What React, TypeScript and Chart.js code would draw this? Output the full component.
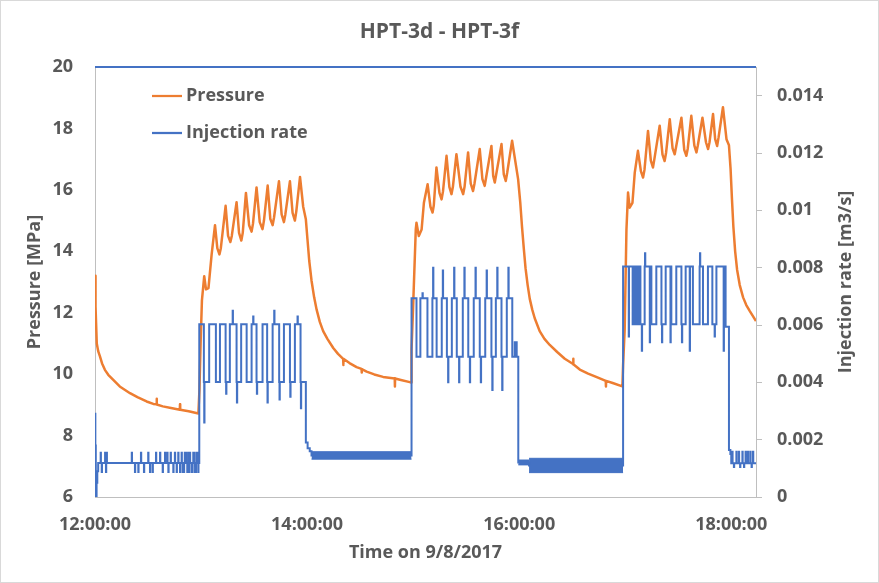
import React, { useEffect, useRef } from 'react';
import { Chart, registerables } from 'chart.js';

Chart.register(...registerables);

const FONT = "'Open Sans', sans-serif";
const TEXT = '#595959';
const ORANGE = '#ED7D31';
const BLUE = '#4472C4';
const AXIS = '#BFBFBF';

const chartTitle = 'HPT-3d - HPT-3f';
const xTitle = 'Time on 9/8/2017';
const yTitle = 'Pressure [MPa]';
const y2Title = 'Injection rate [m3/s]';
const seriesNames = ['Pressure', 'Injection rate'];

// x values are minutes after 12:00:00
const timeTicks = [0, 120, 240, 360];
const timeMax = 374;
const pressureTicks = [6, 8, 10, 12, 14, 16, 18, 20];
const rateTicks = [0, 0.002, 0.004, 0.006, 0.008, 0.01, 0.012, 0.014];

// Pressure [minute, MPa]
const pressure: [number, number][] = [
  [0, 13.2], [0.3, 12.2], [1.0, 11.0], [1.8, 10.75], [2.8, 10.58], [4.0, 10.35], [5.6, 10.14],
  [7.5, 9.98], [10.2, 9.82], [14.0, 9.6], [19.8, 9.38], [24.0, 9.25], [29.2, 9.11], [33.0, 9.03],
  [34.8, 9.02], [34.9, 9.2], [35.0, 9.01], [38.4, 8.95], [43.0, 8.9], [48.0, 8.84], [48.1, 9.02],
  [48.2, 8.84], [53.0, 8.79], [58.5, 8.72],
  [59.1, 9.5], [59.8, 11.1], [60.5, 12.4], [61.8, 13.19], [62.8, 12.76], [64.2, 12.8], [66.0, 13.9],
  [67.9, 14.85], [69.2, 14.1], [70.4, 13.9], [71.2, 14.1], [73.9, 15.48], [75.3, 14.5], [76.6, 14.3],
  [77.4, 14.5], [80.1, 15.6], [81.5, 14.6], [82.8, 14.35], [83.6, 14.6], [85.4, 15.9], [87.2, 14.85],
  [88.6, 14.64], [89.4, 14.9], [91.4, 16.08], [93.2, 14.95], [94.8, 14.72], [95.6, 15.0], [97.7, 16.14],
  [99.2, 15.05], [100.5, 14.85], [101.3, 15.1], [104.1, 16.28], [105.6, 15.2], [106.9, 14.95],
  [107.7, 15.2], [110.3, 16.28], [111.8, 15.25], [113.1, 15.0], [113.9, 15.3], [116.0, 16.42],
  [117.8, 15.45], [119.3, 15.04],
  [120.2, 14.4], [121.2, 13.7], [122.5, 13.05], [124.0, 12.5], [125.4, 12.1], [127.2, 11.7],
  [129.1, 11.4], [131.5, 11.15], [134.8, 10.85], [137.5, 10.66], [140.4, 10.5],
  [140.5, 10.3], [140.6, 10.5], [144.0, 10.36], [148.0, 10.23], [150.8, 10.17], [150.9, 10.05], [151.0, 10.16],
  [153.7, 10.08], [158.0, 9.99], [163.0, 9.91], [169.6, 9.86], [169.7, 9.6], [169.8, 9.86], [172.5, 9.82],
  [178.1, 9.74],
  [178.8, 9.73], [179.1, 10.8], [180.0, 12.21], [181.5, 14.71], [181.9, 14.93], [183.2, 14.5],
  [184.8, 14.71], [186.1, 15.58], [188.2, 16.18], [189.8, 15.45], [191.0, 15.26], [191.7, 15.5],
  [193.2, 16.73], [194.9, 15.9], [196.1, 15.69], [196.9, 15.95], [198.9, 17.11], [200.5, 16.1],
  [201.7, 15.86], [202.5, 16.1], [204.5, 17.16], [206.8, 16.1], [208.3, 15.86], [209.1, 16.1],
  [211.1, 17.22], [212.6, 16.2], [213.9, 15.96], [214.7, 16.2], [217.7, 17.33], [219.2, 16.35],
  [220.5, 16.13], [221.3, 16.4], [224.3, 17.43], [225.3, 16.45], [226.2, 16.24], [227.0, 16.5],
  [230.0, 17.49], [231.3, 16.5], [232.4, 16.29], [233.2, 16.55], [236.0, 17.6], [239.4, 16.35],
  [240.6, 15.6], [241.6, 14.8], [242.6, 14.1], [243.6, 13.45],
  [244.8, 12.9], [246.0, 12.45], [247.4, 12.1], [248.8, 11.82], [251.6, 11.4], [254.3, 11.15],
  [257.3, 10.95], [261.5, 10.72], [265.8, 10.5], [270.5, 10.33], [270.6, 10.5], [270.7, 10.32],
  [274.3, 10.15], [279.0, 10.02], [283.9, 9.9], [289.0, 9.78], [289.1, 9.6], [289.2, 9.78],
  [292.9, 9.71], [298.4, 9.6],
  [298.8, 10.3], [299.7, 11.45], [300.7, 14.71], [301.6, 15.91], [302.5, 15.42], [304.1, 15.58],
  [305.4, 16.56], [307.2, 17.27], [308.9, 16.6], [310.1, 16.4], [310.9, 16.65], [312.9, 17.92],
  [314.5, 16.95], [315.7, 16.73], [316.5, 17.0], [319.5, 18.09], [321.1, 17.15], [322.3, 16.94],
  [323.1, 17.2], [325.2, 18.3], [326.8, 17.35], [328.0, 17.16], [328.8, 17.4], [331.8, 18.35],
  [333.4, 17.3], [334.6, 17.11], [335.4, 17.35], [337.4, 18.41], [339.1, 17.45], [340.3, 17.22],
  [341.1, 17.45], [343.7, 18.35], [345.7, 17.55], [346.9, 17.33], [347.7, 17.55], [349.7, 18.47],
  [350.9, 17.65], [352.0, 17.43], [352.8, 17.7], [355.3, 18.69],
  [357.3, 17.65], [358.7, 17.45], [359.6, 16.7], [360.4, 15.7], [361.2, 14.8], [362.2, 14.0],
  [363.3, 13.4], [364.8, 12.9], [366.7, 12.5], [368.5, 12.25], [370.5, 12.05], [374, 11.73],
];

// Injection rate step levels [minute, m3/s]; each value holds until the next entry
const rateLevels: [number, number][] = [
  [0, 0.0029], [0.2, 0.0018], [0.45, 0.0], [0.9, 0.0005], [1.3, 0.0009], [1.8, 0.00119],
  [59.0, 0.00603], [61.6, 0.00401], [64.6, 0.00603], [68.4, 0.00401], [70.7, 0.00603], [73.9, 0.00401],
  [76.3, 0.00603], [80.1, 0.00401], [82.7, 0.00603], [85.8, 0.00401], [88.6, 0.00603], [91.4, 0.00401],
  [94.8, 0.00603], [97.4, 0.00401], [100.5, 0.00603], [104.2, 0.00401], [106.9, 0.00603], [110.3, 0.00401],
  [113.1, 0.00603], [116.3, 0.00401], [119.3, 0.0019], [120.3, 0.0017], [121.5, 0.0016], [122.5, 0.00145],
  [179.1, 0.00693], [181.9, 0.00489], [184.1, 0.00693], [188.1, 0.00489], [190.9, 0.00693], [193.3, 0.00489],
  [196.2, 0.00693], [199.1, 0.00489], [201.9, 0.00693], [204.7, 0.00489], [208.1, 0.00693], [211.2, 0.00489],
  [214.3, 0.00693], [217.7, 0.00489], [220.8, 0.00693], [224.3, 0.00489], [226.8, 0.00693], [230.0, 0.00489],
  [233.0, 0.00693], [236.1, 0.00489], [237.5, 0.0054], [238.6, 0.00489], [239.5, 0.0012], [245.6, 0.0011],
  [298.8, 0.00804], [304.2, 0.00603], [304.6, 0.00804], [305.1, 0.00603], [305.5, 0.00804], [306.0, 0.00603],
  [306.4, 0.00804], [306.9, 0.00603], [307.3, 0.00804], [307.8, 0.00603], [308.2, 0.00804], [308.6, 0.00603],
  [311.0, 0.00804], [314.8, 0.00603], [317.6, 0.00804], [320.5, 0.00603], [322.9, 0.00804], [326.1, 0.00603],
  [328.9, 0.00804], [331.8, 0.00603], [334.2, 0.00804], [338.3, 0.00603], [342.1, 0.00804], [344.0, 0.00603],
  [346.8, 0.00804], [349.3, 0.00603], [351.6, 0.00804], [356.8, 0.00594], [358.7, 0.00164], [359.5, 0.0015],
  [360.0, 0.00118], [374, 0.00118],
];

// Short spikes of the injection rate [minute, m3/s]
const rateSpikes: [number, number][] = [
  [3.2, 0.00154], [3.8, 0.00087], [5.7, 0.00154], [6.2, 0.00087], [6.6, 0.00154], [20.8, 0.00154],
  [22.6, 0.00087], [24.5, 0.00087], [26.0, 0.00154], [27.7, 0.00087], [30.1, 0.00154], [31.1, 0.00087],
  [32.6, 0.00087], [34.5, 0.00154], [36.8, 0.00154], [38.3, 0.00087], [39.6, 0.00154], [40.9, 0.00154],
  [41.5, 0.00087], [42.8, 0.00154], [44.3, 0.00087], [45.2, 0.00154], [46.2, 0.00087], [47.1, 0.00154],
  [48.1, 0.00087], [49.0, 0.00154], [49.6, 0.00087], [50.3, 0.00087], [50.8, 0.00154], [51.5, 0.00154],
  [52.2, 0.00087], [52.8, 0.00154], [53.2, 0.00087], [53.7, 0.00154], [54.7, 0.00087], [55.1, 0.00087],
  [55.6, 0.00154], [56.1, 0.00154], [56.6, 0.00087], [57.0, 0.00087], [57.5, 0.00154], [57.9, 0.00154],
  [58.4, 0.00087], [58.7, 0.00154],
  [61.8, 0.0026], [74.2, 0.0036], [77.9, 0.0065], [80.3, 0.0033], [89.5, 0.0063], [91.6, 0.0036],
  [97.6, 0.0033], [101.4, 0.0065], [104.4, 0.0034], [110.5, 0.0035], [114.6, 0.0063], [116.5, 0.0031],
  [185.3, 0.00711], [191.3, 0.008], [196.8, 0.0079], [199.8, 0.004], [203.2, 0.008], [206.0, 0.004],
  [209.0, 0.008], [212.1, 0.004], [215.3, 0.008], [218.3, 0.004], [221.6, 0.0079], [224.8, 0.00373],
  [227.6, 0.008], [230.4, 0.00373], [233.9, 0.008],
  [302.0, 0.0056], [309.4, 0.0051], [311.2, 0.0085], [313.9, 0.0054], [320.8, 0.0054], [325.6, 0.0054],
  [332.1, 0.0054], [336.5, 0.0051], [342.3, 0.0085], [350.6, 0.0056], [355.7, 0.0051],
  [360.6, 0.00158], [361.5, 0.00105], [362.9, 0.00158], [364.3, 0.00158], [365.0, 0.00105], [366.3, 0.00158],
  [367.2, 0.00105], [368.1, 0.00158], [369.4, 0.00158], [370.8, 0.00158], [371.5, 0.00105], [372.3, 0.00158],
];

// Dense noise bands of the injection rate [from, to, low, high]
const rateBands: [number, number, number, number][] = [
  [122.5, 179.1, 0.00132, 0.00158],
  [239.5, 245.6, 0.00112, 0.00129],
  [245.6, 298.8, 0.00085, 0.00135],
];

function levelAt(t: number): number {
  let v = rateLevels[0][1];
  for (const [tt, q] of rateLevels) {
    if (tt <= t) v = q;
    else break;
  }
  return v;
}

function fmtTime(m: number): string {
  const h = 12 + Math.floor(m / 60);
  const mm = Math.round(m % 60);
  return `${h}:${String(mm).padStart(2, '0')}:00`;
}

const decor = {
  id: 'decor',
  afterDraw(chart: any) {
    const { ctx, chartArea: a, width, height } = chart;
    ctx.save();
    ctx.strokeStyle = '#D9D9D9';
    ctx.lineWidth = 1;
    ctx.strokeRect(0.5, 0.5, width - 1, height - 1);
    ctx.strokeStyle = BLUE;
    ctx.lineWidth = 2;
    ctx.beginPath();
    ctx.moveTo(a.left, a.top);
    ctx.lineTo(a.right, a.top);
    ctx.stroke();
    // legend
    const items = [
      { label: seriesNames[0], color: ORANGE, y: 96 },
      { label: seriesNames[1], color: BLUE, y: 133 },
    ];
    ctx.font = `bold 18px ${FONT}`;
    ctx.textAlign = 'left';
    ctx.textBaseline = 'middle';
    for (const it of items) {
      ctx.strokeStyle = it.color;
      ctx.lineWidth = 2.25;
      ctx.beginPath();
      ctx.moveTo(152, it.y);
      ctx.lineTo(182, it.y);
      ctx.stroke();
      ctx.fillStyle = TEXT;
      ctx.fillText(it.label, 186, it.y);
    }
    // right axis title
    ctx.translate(846, (a.top + a.bottom) / 2);
    ctx.rotate(-Math.PI / 2);
    ctx.textAlign = 'center';
    ctx.fillText(y2Title, 0, 0);
    ctx.restore();
  },
};

export default function App() {
  const ref = useRef<HTMLCanvasElement>(null);
  useEffect(() => {
    const canvas = ref.current;
    if (!canvas) return;

    const ratePoints = [
      ...rateLevels.map(([x, y]) => ({ x, y })),
      ...rateSpikes.flatMap(([t, q]) => [{ x: t, y: q }, { x: t + 0.15, y: levelAt(t) }]),
    ].sort((p, q) => p.x - q.x);

    const bandSets = rateBands.flatMap(([t0, t1, lo, hi]) => [
      {
        label: 'band-top',
        data: [{ x: t0, y: hi }, { x: t1, y: hi }],
        yAxisID: 'y2',
        borderColor: BLUE,
        borderWidth: 1,
        pointRadius: 0,
        fill: false,
        order: 3,
      },
      {
        label: 'band-bottom',
        data: [{ x: t0, y: lo }, { x: t1, y: lo }],
        yAxisID: 'y2',
        borderColor: BLUE,
        borderWidth: 1,
        backgroundColor: BLUE,
        pointRadius: 0,
        fill: '-1',
        order: 3,
      },
    ]);

    const tickFont = { family: FONT, size: 18, weight: 'bold' as any };

    const chart = new Chart(canvas, {
      type: 'line',
      data: {
        datasets: [
          {
            label: seriesNames[0],
            data: pressure.map(([x, y]) => ({ x, y })),
            yAxisID: 'y',
            borderColor: ORANGE,
            backgroundColor: ORANGE,
            borderWidth: 2.5,
            pointRadius: 0,
            tension: 0,
            borderJoinStyle: 'round',
            order: 1,
          },
          {
            label: seriesNames[1],
            data: ratePoints,
            yAxisID: 'y2',
            borderColor: BLUE,
            backgroundColor: BLUE,
            borderWidth: 2,
            pointRadius: 0,
            stepped: true,
            order: 0,
          },
          ...bandSets,
        ] as any,
      },
      options: {
        animation: false,
        responsive: true,
        maintainAspectRatio: false,
        events: [],
        layout: { padding: 0 },
        plugins: {
          legend: { display: false },
          tooltip: { enabled: false },
          title: {
            display: true,
            text: chartTitle,
            color: TEXT,
            font: { family: FONT, size: 21, weight: 'bold' },
            padding: { top: 19, bottom: 22.8 },
          },
        },
        scales: {
          x: {
            type: 'linear',
            min: 0,
            max: timeMax,
            afterBuildTicks: (s: any) => {
              s.ticks = timeTicks.map((v) => ({ value: v }));
            },
            afterFit: (s: any) => {
              s.height = 86;
            },
            ticks: {
              color: TEXT,
              font: tickFont,
              padding: 17,
              maxRotation: 0,
              autoSkip: false,
              callback: (v: any) => fmtTime(Number(v)),
            },
            grid: { display: true, drawOnChartArea: false, drawTicks: false, color: AXIS },
            border: { display: true, color: AXIS, width: 1 },
            title: {
              display: true,
              text: xTitle,
              color: TEXT,
              font: tickFont,
              padding: { top: 0, bottom: 19 },
            },
          },
          y: {
            type: 'linear',
            position: 'left',
            min: 6,
            max: 20,
            afterBuildTicks: (s: any) => {
              s.ticks = pressureTicks.map((v) => ({ value: v }));
            },
            afterFit: (s: any) => {
              s.width = 95;
            },
            ticks: { color: TEXT, font: tickFont, padding: 22, callback: (v: any) => String(v) },
            grid: { display: true, drawOnChartArea: false, drawTicks: false, color: AXIS },
            border: { display: true, color: AXIS, width: 1 },
            title: {
              display: true,
              text: yTitle,
              color: TEXT,
              font: tickFont,
              padding: { top: 24, bottom: 0 },
            },
          },
          y2: {
            type: 'linear',
            position: 'right',
            min: 0,
            max: 0.015,
            afterBuildTicks: (s: any) => {
              s.ticks = rateTicks.map((v) => ({ value: v }));
            },
            afterFit: (s: any) => {
              s.width = 123;
            },
            ticks: { color: TEXT, font: tickFont, padding: 15, callback: (v: any) => String(v) },
            grid: { display: true, drawOnChartArea: false, drawTicks: true, tickLength: 6, color: AXIS },
            border: { display: true, color: AXIS, width: 1 },
            title: { display: false },
          },
        },
      } as any,
      plugins: [decor],
    });
    return () => chart.destroy();
  }, []);

  return (
    <div style={{ position: 'fixed', left: 0, top: 0, width: 879, height: 583, background: '#fff' }}>
      <canvas ref={ref} />
    </div>
  );
}
